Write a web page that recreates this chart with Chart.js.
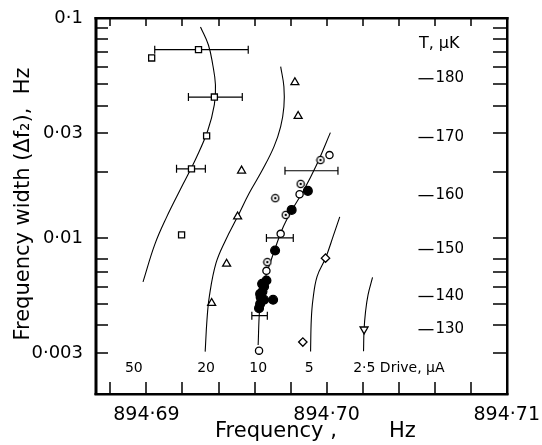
<!DOCTYPE html>
<html>
<head>
<meta charset="utf-8">
<script src="https://cdn.jsdelivr.net/npm/chart.js@4.4.1/dist/chart.umd.min.js"></script>
<style>
  html, body { margin: 0; padding: 0; background: #fff; }
</style>
</head>
<body>
<canvas id="fwChart" width="542" height="445"></canvas>
<script>
// values: x = frequency (Hz), y = width (Δf2) in Hz

// 50 uA drive (squares)
const squareX = [894.69289, 894.69029, 894.69377, 894.69334, 894.6925, 894.69195];
const squareY = [0.0718, 0.0658, 0.0437, 0.0291, 0.0206, 0.01032];
// 20 uA drive (triangles)
const triUpX = [894.69824, 894.69842, 894.69528, 894.69506, 894.69445, 894.69362];
const triUpY = [0.0510, 0.0358, 0.0202, 0.0125, 0.00762, 0.00505];
// 10 uA drive: open, dotted and filled circles
const openX = [894.70016, 894.6985, 894.69745, 894.69666, 894.69625];
const openY = [0.0238, 0.0158, 0.01043, 0.00708, 0.00307];
const dotX = [894.69966, 894.69856, 894.69715, 894.69773, 894.69671];
const dotY = [0.0226, 0.0176, 0.01516, 0.01272, 0.00776];
const solidX = [894.69896, 894.69806, 894.69714, 894.69666, 894.69642, 894.69653, 894.69644,
                894.69631, 894.69634, 894.69653, 894.69703, 894.69631, 894.69625];
const solidY = [0.01636, 0.0134, 0.00876, 0.00640, 0.00618, 0.00601, 0.00570,
                0.00556, 0.00537, 0.00523, 0.00523, 0.00501, 0.00479];
// 5 uA (diamonds) and 2.5 uA (inverted triangle)
const diamondX = [894.69994, 894.69868];
const diamondY = [0.00809, 0.00336];
const triDownX = [894.70208];
const triDownY = [0.00384];

// horizontal error bars
const errY  = [0.0718, 0.0437, 0.0206, 0.0202, 0.0100, 0.00443];
const errLo = [894.69046, 894.69233, 894.69167, 894.69769, 894.69666, 894.69585];
const errHi = [894.69565, 894.69532, 894.69327, 894.70063, 894.69815, 894.69671];

// guide curves, one per drive current
const curve50X = [894.69300, 894.69344, 894.69368, 894.69383, 894.69377, 894.6934, 894.69276, 894.69202, 894.69110, 894.69046, 894.68981];
const curve50Y = [0.0910, 0.0754, 0.0613, 0.0497, 0.0404, 0.0307, 0.0231, 0.01747, 0.01233, 0.00932, 0.00631];
const curve20X = [894.69745, 894.69763, 894.69763, 894.69745, 894.69708, 894.69644, 894.6957, 894.69506, 894.6944, 894.69386, 894.69349, 894.69336, 894.69326];
const curve20Y = [0.0601, 0.0487, 0.0395, 0.0321, 0.0260, 0.0204, 0.01596, 0.0125, 0.00979, 0.00767, 0.00541, 0.00424, 0.00304];
const curve10X = [894.70021, 894.6994, 894.69874, 894.69808, 894.69752, 894.69708, 894.6967, 894.69642, 894.69628, 894.6962];
const curve10Y = [0.0301, 0.0211, 0.01653, 0.0134, 0.01087, 0.00864, 0.0070, 0.0058, 0.00471, 0.00326];
const curve5X = [894.70073, 894.70039, 894.69995, 894.69947, 894.69924, 894.69915, 894.69911];
const curve5Y = [0.01246, 0.01032, 0.00812, 0.00667, 0.00523, 0.00424, 0.00304];
const curve25X = [894.70255, 894.7023, 894.70216, 894.70208, 894.70205];
const curve25Y = [0.00661, 0.00551, 0.00461, 0.00382, 0.00305];

// temperature calibration shown on the right
const tempLabels = [180, 170, 160, 150, 140, 130];
const tempWidths = [0.0533, 0.0288, 0.01567, 0.00891, 0.00545, 0.00385];

// drive current labels along the bottom
const driveText = ['50', '20', '10', '5', '2·5 Drive, μA'];
const driveX = [894.6893, 894.69331, 894.6962, 894.69903, 894.70401];

// axis ticks
const xLabelTicks = [894.69, 894.70, 894.71];
const xMarks = [894.688, 894.690, 894.692, 894.694, 894.696, 894.698, 894.700, 894.702, 894.704, 894.706, 894.708];
const yLabelTicks = [0.1, 0.03, 0.01, 0.003];
const yMarks = [0.09, 0.08, 0.07, 0.06, 0.05, 0.04, 0.03, 0.02, 0.01, 0.008, 0.007, 0.006, 0.005, 0.004, 0.003];

const FONT = '"DejaVu Sans", sans-serif';

function pts(xs, ys) {
  return xs.map((v, i) => ({ x: v, y: ys[i] }));
}

// open circle with a dot in the middle
function dotCircle() {
  const c = document.createElement('canvas');
  c.width = 10; c.height = 10;
  const g = c.getContext('2d');
  g.beginPath(); g.arc(5, 5, 3.6, 0, Math.PI * 2);
  g.fillStyle = '#fff'; g.fill();
  g.lineWidth = 1.3; g.strokeStyle = '#000'; g.stroke();
  g.beginPath(); g.arc(5, 5, 1.2, 0, Math.PI * 2);
  g.fillStyle = '#000'; g.fill();
  return c;
}

function marker(data, style, radius, fill, extra) {
  return Object.assign({
    data, pointStyle: style, pointRadius: radius,
    backgroundColor: fill, borderColor: '#000', borderWidth: 1.3, showLine: false
  }, extra || {});
}

function curve(data) {
  return {
    data, showLine: true, pointRadius: 0, borderColor: '#000',
    borderWidth: 1.1, tension: 0.4, fill: false
  };
}

const figureExtras = {
  id: 'figureExtras',
  beforeDatasetsDraw(chart) {
    const { ctx, scales: { x, y } } = chart;
    ctx.save();
    ctx.strokeStyle = '#000';
    ctx.lineWidth = 1.2;
    errY.forEach((v, i) => {
      const py = y.getPixelForValue(v);
      const x0 = x.getPixelForValue(errLo[i]);
      const x1 = x.getPixelForValue(errHi[i]);
      ctx.beginPath();
      ctx.moveTo(x0, py); ctx.lineTo(x1, py);
      ctx.moveTo(x0, py - 4); ctx.lineTo(x0, py + 4);
      ctx.moveTo(x1, py - 4); ctx.lineTo(x1, py + 4);
      ctx.stroke();
    });
    ctx.restore();
  },
  afterDraw(chart) {
    const { ctx, chartArea: a, scales: { x, y } } = chart;
    ctx.save();
    ctx.fillStyle = '#000';

    // frame and inward ticks, as filled rectangles
    const L = Math.round(a.left), R = Math.round(a.right);
    const T = Math.round(a.top), B = Math.round(a.bottom);
    ctx.fillRect(L - 1.5, T - 1, 3, B - T + 2);
    ctx.fillRect(R - 1, T - 1, 2.5, B - T + 2);
    ctx.fillRect(L - 1.5, T - 1, R - L + 3, 2.5);
    ctx.fillRect(L - 1.5, B - 1, R - L + 3, 2.5);
    xMarks.forEach(v => {
      const px = Math.round(x.getPixelForValue(v));
      ctx.fillRect(px - 0.75, B - 12, 1.5, 12);
      ctx.fillRect(px - 0.75, T, 1.5, 8);
    });
    yMarks.forEach(v => {
      const py = Math.round(y.getPixelForValue(v));
      ctx.fillRect(L, py - 0.75, 12, 1.5);
      ctx.fillRect(R - 14, py - 0.75, 14, 1.5);
    });

    // temperature scale
    ctx.textBaseline = 'middle';
    ctx.textAlign = 'left';
    ctx.font = '15px ' + FONT;
    const tx = x.getPixelForValue(894.7051);
    tempLabels.forEach((t, i) => {
      const py = y.getPixelForValue(tempWidths[i]);
      ctx.fillRect(tx, py, 15, 1.3);
      ctx.fillText(String(t), tx + 17, py);
    });
    ctx.font = '16px ' + FONT;
    ctx.textAlign = 'center';
    ctx.fillText('T, μK', x.getPixelForValue(894.70625), y.getPixelForValue(0.0762));

    // drive current labels
    ctx.font = '14px ' + FONT;
    driveText.forEach((s, i) => {
      ctx.fillText(s, x.getPixelForValue(driveX[i]), y.getPixelForValue(0.00256));
    });

    // axis titles
    ctx.font = '21px ' + FONT;
    ctx.textAlign = 'left';
    ctx.fillText('Frequency ,', L + 119, 432);
    ctx.fillText('Hz', L + 293, 432);
    ctx.translate(24, 204);
    ctx.rotate(-Math.PI / 2);
    ctx.textAlign = 'center';
    ctx.fillText('Frequency width (Δf₂),  Hz', 0, 0);
    ctx.restore();
  }
};

new Chart(document.getElementById('fwChart'), {
  type: 'scatter',
  data: {
    datasets: [
      marker(pts(solidX, solidY), 'circle', 4.4, '#000'),
      marker(pts(openX, openY), 'circle', 3.6, '#fff'),
      marker(pts(dotX, dotY), dotCircle(), 5, '#fff'),
      marker(pts(squareX, squareY), 'rect', 4.3, '#fff'),
      marker(pts(triUpX, triUpY), 'triangle', 4.6, '#fff'),
      marker(pts(diamondX, diamondY), 'rectRot', 4.2, '#fff'),
      marker(pts(triDownX, triDownY), 'triangle', 4.6, '#fff', { rotation: 180 }),
      curve(pts(curve50X, curve50Y)),
      curve(pts(curve20X, curve20Y)),
      curve(pts(curve10X, curve10Y)),
      curve(pts(curve5X, curve5Y)),
      curve(pts(curve25X, curve25Y))
    ]
  },
  options: {
    responsive: false,
    animation: false,
    layout: { padding: { top: 18, right: 33, left: 0, bottom: 0 } },
    plugins: { legend: { display: false }, tooltip: { enabled: false } },
    scales: {
      x: {
        type: 'linear', min: 894.6872, max: 894.71,
        grid: { display: false }, border: { display: false },
        afterBuildTicks: s => { s.ticks = xLabelTicks.map(v => ({ value: v })); },
        afterFit: s => { s.height = 51; },
        ticks: {
          autoSkip: false, maxRotation: 0, padding: 2, color: '#000',
          font: { family: FONT, size: 19 },
          callback: v => v.toFixed(2).replace('.', '·')
        }
      },
      y: {
        type: 'logarithmic', min: 0.00195, max: 0.1,
        grid: { display: false }, border: { display: false },
        afterBuildTicks: s => { s.ticks = yLabelTicks.map(v => ({ value: v })); },
        afterFit: s => { s.width = 96; },
        ticks: {
          autoSkip: false, padding: 5, color: '#000',
          font: { family: FONT, size: 18 },
          callback: v => String(v).replace('.', '·')
        }
      }
    }
  },
  plugins: [figureExtras]
});
</script>
</body>
</html>
